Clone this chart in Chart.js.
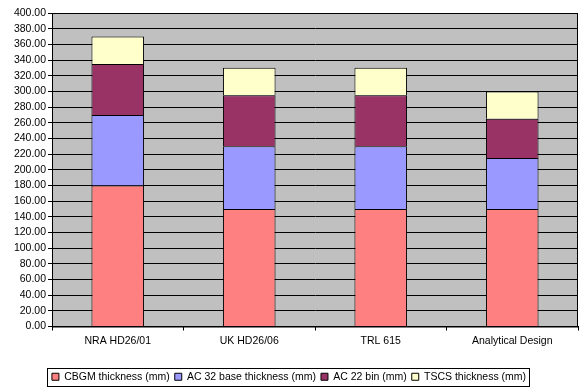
<!DOCTYPE html>
<html>
<head>
<meta charset="utf-8">
<script src="https://cdn.jsdelivr.net/npm/chart.js@4/dist/chart.umd.min.js"></script>
<style>
  html, body { margin: 0; padding: 0; background: #fff; }
  #wrap { width: 580px; height: 388px; }
</style>
</head>
<body>
<div id="wrap"><canvas id="pavement"></canvas></div>
<script>
const designs = ["NRA HD26/01", "UK HD26/06", "TRL 615", "Analytical Design"];
const cbgm = [180, 150, 150, 150];
const ac32base = [90, 80, 80, 65];
const ac22bin = [65, 65, 65, 50];
const tscs = [35, 35, 35, 35];

const FONT = "Liberation Sans, Arial, sans-serif";

const plotBackground = {
  id: "plotBackground",
  beforeDraw(chart) {
    const { ctx, chartArea: a } = chart;
    ctx.save();
    ctx.fillStyle = "#C0C0C0";
    ctx.fillRect(a.left, a.top, a.right - a.left, a.bottom - a.top);
    ctx.restore();
  },
  afterDatasetsDraw(chart) {
    const { ctx, chartArea: a } = chart;
    ctx.save();
    ctx.strokeStyle = "#000";
    ctx.lineWidth = 1;
    ctx.strokeRect(a.left + 0.5, a.top + 0.5, a.right - a.left - 1, a.bottom - a.top);
    ctx.restore();
  },
  afterDraw(chart) {
    // frame around the legend, like the spreadsheet one
    const boxes = chart.legend.legendHitBoxes;
    if (!boxes || !boxes.length) return;
    const ctx = chart.ctx;
    let l = Infinity, r = -Infinity, t = Infinity, b = -Infinity;
    boxes.forEach((h) => {
      l = Math.min(l, h.left); r = Math.max(r, h.left + h.width);
      t = Math.min(t, h.top); b = Math.max(b, h.top + h.height);
    });
    ctx.save();
    ctx.strokeStyle = "#000";
    ctx.lineWidth = 1;
    ctx.strokeRect(Math.round(l) - 4.5, Math.round(t) - 3.5, Math.round(r - l) + 8, Math.round(b - t) + 7);
    ctx.restore();
  },
};

const ctx = document.getElementById("pavement").getContext("2d");
const chart = new Chart(ctx, {
  type: "bar",
  data: {
    labels: designs,
    datasets: [
      { label: "CBGM thickness (mm)", data: cbgm, backgroundColor: "#FF8080" },
      { label: "AC 32 base thickness (mm)", data: ac32base, backgroundColor: "#9999FF" },
      { label: "AC 22 bin (mm)", data: ac22bin, backgroundColor: "#993366" },
      { label: "TSCS thickness (mm)", data: tscs, backgroundColor: "#FFFFCC" },
    ].map((d) => Object.assign(d, {
      borderColor: "#000",
      borderWidth: 1,
      barPercentage: 0.4,
      categoryPercentage: 1,
    })),
  },
  options: {
    responsive: true,
    maintainAspectRatio: false,
    animation: false,
    layout: { padding: { top: 13, right: 2, bottom: -4, left: 0 } },
    plugins: {
      tooltip: { enabled: false },
      legend: {
        position: "bottom",
        labels: {
          boxWidth: 7,
          boxHeight: 7,
          padding: 5,
          color: "#000",
          font: { family: FONT, size: 10.5 },
        },
      },
    },
    scales: {
      x: {
        stacked: true,
        grid: { display: true, drawOnChartArea: false, offset: true, color: "#000", tickLength: 4 },
        border: { color: "#000" },
        ticks: { color: "#000", font: { family: FONT, size: 10.5 }, padding: 4 },
        afterFit(axis) { axis.height = 40; },
      },
      y: {
        stacked: true,
        min: 0,
        max: 400,
        ticks: {
          stepSize: 20,
          autoSkip: false,
          color: "#000",
          padding: 2,
          font: { family: FONT, size: 10.5 },
          callback: (v) => v.toFixed(2),
        },
        grid: { color: "#000", tickLength: 4 },
        border: { color: "#000" },
        afterFit(axis) { axis.width = 52; },
      },
    },
  },
  plugins: [plotBackground],
});
</script>
</body>
</html>
